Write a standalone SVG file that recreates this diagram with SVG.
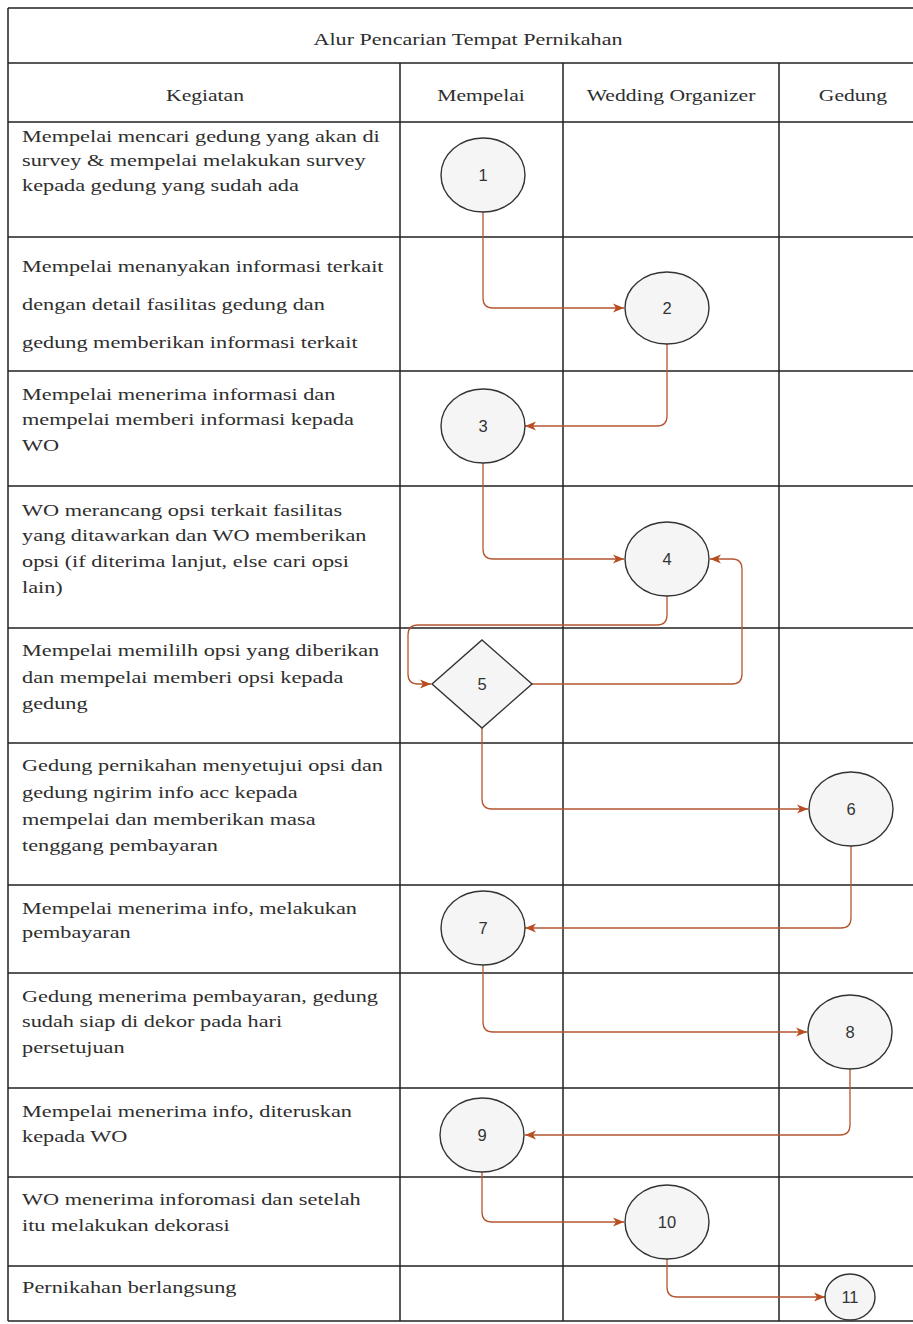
<svg xmlns="http://www.w3.org/2000/svg" width="913" height="1324" viewBox="0 0 913 1324">
  <style>
    .grid { stroke: #222; stroke-width: 1.5; fill: none; }
    .txt { font-family: "Liberation Serif", "Times New Roman", serif; font-size: 17px; fill: #2e2e2e; }
    .num { font-family: "Liberation Sans", Arial, sans-serif; font-size: 16.5px; fill: #333; text-anchor: middle; }
    .node { fill: #f5f5f5; stroke: #333; stroke-width: 1.4; }
    .flow { fill: none; stroke: #b4562f; stroke-width: 1.3; marker-end: url(#arrow); }
  </style>
  <defs>
    <marker id="arrow" markerUnits="userSpaceOnUse" markerWidth="12" markerHeight="10" refX="11" refY="5" orient="auto">
      <path d="M0,0.5 L11,5 L0,9.5 L3,5 Z" fill="#b84d22"/>
    </marker>
  </defs>
  <rect x="0" y="0" width="913" height="1324" fill="#fff"/>

  <!-- table grid -->
  <g id="table" class="grid">
    <path d="M8 8 H930 M8 63 H930 M8 122 H930 M8 237 H930 M8 371 H930 M8 486 H930 M8 628 H930 M8 743 H930 M8 885 H930 M8 973 H930 M8 1088 H930 M8 1177 H930 M8 1266 H930 M8 1321 H930"/>
    <path d="M8 8 V1321 M400 63 V1321 M563 63 V1321 M779 63 V1321"/>
  </g>

  <!-- title and column headers -->
  <g id="headers" class="txt">
    <text transform="translate(468 45) scale(1.3 1)" text-anchor="middle">Alur Pencarian Tempat Pernikahan</text>
    <text transform="translate(205 101) scale(1.27 1)" text-anchor="middle">Kegiatan</text>
    <text transform="translate(481 101) scale(1.27 1)" text-anchor="middle">Mempelai</text>
    <text transform="translate(671 101) scale(1.27 1)" text-anchor="middle">Wedding Organizer</text>
    <text transform="translate(853 101) scale(1.27 1)" text-anchor="middle">Gedung</text>
  </g>

  <!-- activity descriptions -->
  <g id="activities" class="txt" transform="translate(22 0) scale(1.31 1)">
    <text x="0" y="142">Mempelai mencari gedung yang akan di</text>
    <text x="0" y="166.5">survey &amp; mempelai melakukan survey</text>
    <text x="0" y="191">kepada gedung yang sudah ada</text>

    <text x="0" y="272">Mempelai menanyakan informasi terkait</text>
    <text x="0" y="310">dengan detail fasilitas gedung dan</text>
    <text x="0" y="348">gedung memberikan informasi terkait</text>

    <text x="0" y="400">Mempelai menerima informasi dan</text>
    <text x="0" y="425">mempelai memberi informasi kepada</text>
    <text x="0" y="451">WO</text>

    <text x="0" y="516.5">WO merancang opsi terkait fasilitas</text>
    <text x="0" y="541.5">yang ditawarkan dan WO memberikan</text>
    <text x="0" y="567.5">opsi (if diterima lanjut, else cari opsi</text>
    <text x="0" y="593">lain)</text>

    <text x="0" y="656.5">Mempelai memililh opsi yang diberikan</text>
    <text x="0" y="683">dan mempelai memberi opsi kepada</text>
    <text x="0" y="709.5">gedung</text>

    <text x="0" y="771.5">Gedung pernikahan menyetujui opsi dan</text>
    <text x="0" y="798">gedung ngirim info acc kepada</text>
    <text x="0" y="825">mempelai dan memberikan masa</text>
    <text x="0" y="851.5">tenggang pembayaran</text>

    <text x="0" y="914">Mempelai menerima info, melakukan</text>
    <text x="0" y="938">pembayaran</text>

    <text x="0" y="1002">Gedung menerima pembayaran, gedung</text>
    <text x="0" y="1027">sudah siap di dekor pada hari</text>
    <text x="0" y="1053">persetujuan</text>

    <text x="0" y="1117">Mempelai menerima info, diteruskan</text>
    <text x="0" y="1142">kepada WO</text>

    <text x="0" y="1205">WO menerima inforomasi dan setelah</text>
    <text x="0" y="1231">itu melakukan dekorasi</text>

    <text x="0" y="1293">Pernikahan berlangsung</text>
  </g>

  <!-- connectors -->
  <g id="connectors">
    <path class="flow" d="M483 212 V298 Q483 308 493 308 H624"/>
    <path class="flow" d="M667 344 V416 Q667 426 657 426 H525"/>
    <path class="flow" d="M483 463 V549 Q483 559 493 559 H624"/>
    <path class="flow" d="M667 596 V615 Q667 625 657 625 H418 Q408 625 408 635 V674 Q408 684 418 684 H431"/>
    <path class="flow" d="M532 684 H732 Q742 684 742 674 V569 Q742 559 732 559 H710"/>
    <path class="flow" d="M482 728 V799 Q482 809 492 809 H808"/>
    <path class="flow" d="M851 846 V918 Q851 928 841 928 H525"/>
    <path class="flow" d="M483 965 V1022 Q483 1032 493 1032 H807"/>
    <path class="flow" d="M850 1069 V1125 Q850 1135 840 1135 H525"/>
    <path class="flow" d="M482 1172 V1212 Q482 1222 492 1222 H624"/>
    <path class="flow" d="M667 1259 V1287 Q667 1297 677 1297 H825"/>
  </g>

  <!-- process nodes -->
  <g id="node-1"><ellipse class="node" cx="483" cy="175" rx="42" ry="37"/><text class="num" x="483" y="181">1</text></g>
  <g id="node-2"><ellipse class="node" cx="667" cy="308" rx="42" ry="36"/><text class="num" x="667" y="314">2</text></g>
  <g id="node-3"><ellipse class="node" cx="483" cy="426" rx="42" ry="37"/><text class="num" x="483" y="432">3</text></g>
  <g id="node-4"><ellipse class="node" cx="667" cy="559" rx="42" ry="37"/><text class="num" x="667" y="565">4</text></g>
  <g id="node-5"><path class="node" d="M482 640 L532 684 L482 728 L432 684 Z"/><text class="num" x="482" y="690">5</text></g>
  <g id="node-6"><ellipse class="node" cx="851" cy="809" rx="42" ry="37"/><text class="num" x="851" y="815">6</text></g>
  <g id="node-7"><ellipse class="node" cx="483" cy="928" rx="42" ry="37"/><text class="num" x="483" y="934">7</text></g>
  <g id="node-8"><ellipse class="node" cx="850" cy="1032" rx="42" ry="37"/><text class="num" x="850" y="1038">8</text></g>
  <g id="node-9"><ellipse class="node" cx="482" cy="1135" rx="42" ry="37"/><text class="num" x="482" y="1141">9</text></g>
  <g id="node-10"><ellipse class="node" cx="667" cy="1222" rx="42" ry="37"/><text class="num" x="667" y="1228">10</text></g>
  <g id="node-11"><ellipse class="node" cx="850" cy="1297" rx="25" ry="23"/><text class="num" x="850" y="1303">11</text></g>
</svg>
